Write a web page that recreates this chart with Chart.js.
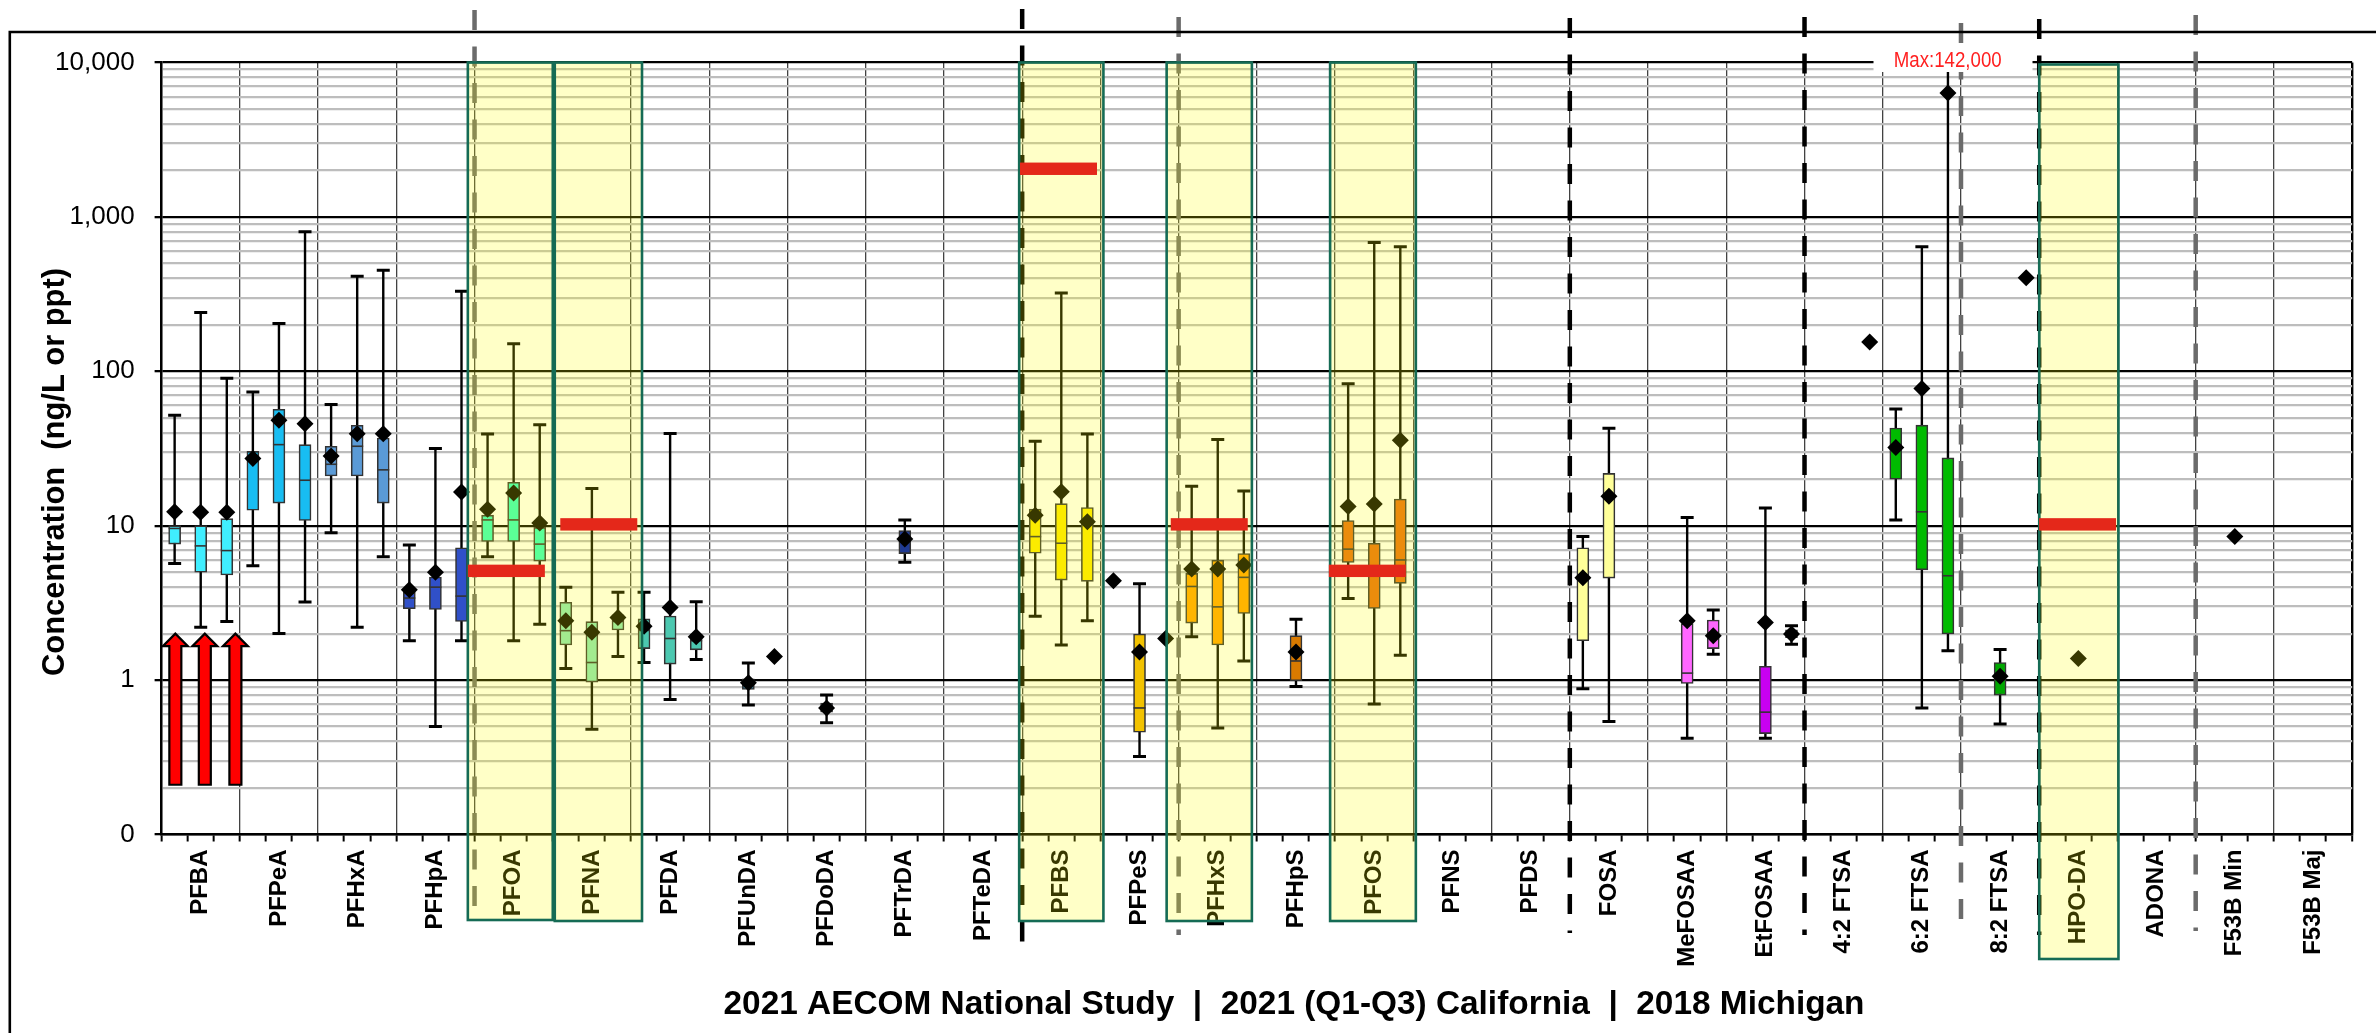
<!DOCTYPE html>
<html>
<head>
<meta charset="utf-8">
<title>PFAS concentrations by analyte</title>
<script src="https://cdn.jsdelivr.net/npm/chart.js@4.4.1/dist/chart.umd.min.js"></script>
<style>
  html, body { margin: 0; padding: 0; background: #fff; }
  #wrap { width: 2376px; height: 1033px; position: relative; }
</style>
</head>
<body>
<div id="wrap"><canvas id="c" width="2376" height="1033"></canvas></div>
<script>
// ---- analytes (x categories) and studies (three boxes per analyte) ----
const categories = ['PFBA','PFPeA','PFHxA','PFHpA','PFOA','PFNA','PFDA','PFUnDA','PFDoDA','PFTrDA','PFTeDA',
  'PFBS','PFPeS','PFHxS','PFHpS','PFOS','PFNS','PFDS','FOSA','MeFOSAA','EtFOSAA',
  '4:2 FTSA','6:2 FTSA','8:2 FTSA','HPO-DA','ADONA','F53B Min','F53B Maj'];
const studies = ['2021 AECOM National Study', '2021 (Q1-Q3) California', '2018 Michigan'];
const n = null;

// 2021 AECOM National Study (ng/L)
const natMin  = [5.7, 5.5, 9.0, 1.8, 6.3, 1.19, 1.3, n, n, n, n, 2.59, n, 1.91, n, 3.38, n, n, 0.88, n, n, n, 10.9, n, n, n, n, n];
const natQ1   = [7.6, 12.6, 21, 2.9, 7.9, 1.69, 1.6, n, n, n, n, 6.64, n, 2.34, n, 5.78, n, n, 1.8, n, n, n, 20, n, n, n, n, n];
const natMed  = [9.6, 27, 25, 3.4, 10.9, 2.09, 2.1, n, n, n, n, 8.5, n, 4.04, n, 7.05, n, n, 4.5, n, n, n, 32, n, n, n, n, n];
const natQ3   = [10.0, 30.3, 32.7, 3.7, 11.7, 3.19, 2.49, n, n, n, n, 12.8, n, 4.91, n, 10.8, n, n, 7.2, n, n, n, 42.9, n, n, n, n, n];
const natMax  = [52, 73.5, 61, 7.5, 39.2, 4.0, 3.7, n, n, n, n, 35.2, n, 18, n, 83, n, n, 8.5, n, n, n, 57, n, n, n, n, n];
const natMean = [12.3, 27.2, 28.3, 3.85, 12.8, 2.42, 2.23, n, n, n, n, 11.7, 4.4, 5.24, n, 13.3, n, n, 4.6, n, n, n, 32.1, n, n, n, n, n];

// 2021 (Q1-Q3) California (ng/L)
const calMin  = [2.2, 2.0, 2.2, 0.5, 1.8, 0.48, 0.75, 0.69, 0.53, 5.8, n, 1.69, 0.32, 0.49, 0.91, 0.70, n, n, 0.54, 0.42, 0.42, n, 0.66, 0.52, n, n, n, n];
const calQ1   = [5.0, 14, 21, 2.87, 7.9, 0.97, 1.27, 0.87, 0.62, 6.6, n, 4.44, 0.46, 1.69, 0.99, 2.91, n, n, 4.58, 0.95, 0.45, n, 5.18, 0.80, n, n, n, n];
const calMed  = [7.4, 33.5, 32.7, 4.0, 10.9, 1.3, 1.86, 0.95, 0.66, 8.0, n, 7.7, 0.66, 2.98, 1.33, 5.0, n, n, 15.5, 1.11, 0.62, n, 12.3, 1.06, n, n, n, n];
const calQ3   = [10.0, 56.8, 44.7, 4.65, 19.1, 2.39, 2.6, 1.02, 0.71, 9.3, n, 13.9, 1.99, 5.98, 1.94, 7.7, n, n, 21.8, 2.32, 1.23, n, 44.8, 1.3, n, n, n, n];
const calMax  = [240, 204, 413, 31.6, 151, 17.4, 39.6, 1.29, 0.80, 10.9, n, 322, 4.2, 36.2, 2.48, 682, n, n, 42.7, 11.3, 13, n, 640, 1.58, n, n, n, n];
const calMean = [12.2, 48.2, 39.4, 5.0, 16.3, 2.04, 2.95, 0.96, 0.66, 8.2, n, 16.6, 1.52, 5.24, 1.52, 13.8, n, n, 15.5, 2.42, 2.36, n, 77.5, 1.06, 1.38, n, 8.5, n];

// 2018 Michigan (ng/L)
const micMin  = [2.4, 3.2, 6.3, 1.8, 2.3, 1.42, 1.36, n, n, n, n, 2.42, n, 1.33, n, 1.45, n, n, n, 1.47, 1.71, n, 1.55, n, n, n, n, n];
const micQ1   = [4.8, 10.8, 14, 2.4, 5.9, 2.11, 1.57, n, n, n, n, 4.36, n, 2.7, n, 4.23, n, n, n, 1.6, 1.88, n, 1.99, n, n, n, n, n];
const micMed  = [6.9, 19.7, 23, 3.5, 7.6, 2.4, 1.8, n, n, n, n, 10.5, n, 4.63, n, 6.0, n, n, n, 1.95, 2.0, n, 4.74, n, n, n, n, n];
const micQ3   = [11.1, 33.5, 37, 7.2, 9.75, 2.65, 1.98, n, n, n, n, 13.1, n, 6.6, n, 14.9, n, n, n, 2.45, 2.12, n, 27.5, n, n, n, n, n];
const micMax  = [90, 800, 451, 330, 45, 3.7, 3.22, n, n, n, n, 39.2, n, 16.8, n, 640, n, n, n, 2.84, 2.25, n, 142000, n, n, n, n, n];
const micMean = [12.2, 45.8, 39.4, 16.5, 10.4, 2.54, 1.91, 1.42, n, n, n, 10.6, 1.86, 5.56, n, 35.8, n, n, n, 1.94, 1.99, 155, 6350, 403, n, n, n, n];

// regulatory reference levels, drawn as red bars over highlighted analytes
const limitAnalytes = ['PFOA', 'PFNA', 'PFBS', 'PFHxS', 'PFOS', 'HPO-DA'];
const limitValues   = [5.1, 10.2, 2050, 10.2, 5.1, 10.2];

// PFBA arrows (lower / upper end of each arrow, ng/L)
const arrowFrom = 0.21;
const arrowTo = 2.0;

// y axis: labelled decades, with the "0" label sitting on 0.1
const yMajorValues = [0.1, 1, 10, 100, 1000, 10000];
const yTickLabels  = ['0', '1', '10', '100', '1,000', '10,000'];

const maxNote = 'Max:142,000';
const xTitle = '2021 AECOM National Study  |  2021 (Q1-Q3) California  |  2018 Michigan';
const yTitle = 'Concentration  (ng/L or ppt)';

// ---- styles ----
const boxColors = ['#40EEFF','#18BDF2','#5A9AD6','#3050C8','#2EFFC0','#88E6B8','#4CC8B0','#3A7F9A','#506080','#1F3A93','#888888',
  '#FAE600','#F2C200','#FFA000','#D97A00','#E66C10','#888888','#888888','#FFFF99','#FF66FF','#C800F0',
  '#00BB00','#00BB00','#00A800','#888888','#888888','#888888','#888888'];

// dashed separators between analyte groups: [first analyte after the line, colour, top y, bottom y]
const separators = [
  ['PFOA', '#6B6B6B', 10, 921], ['PFBS', '#000000', 9, 946], ['PFHxS', '#6B6B6B', 17, 935],
  ['FOSA', '#000000', 18, 933], ['4:2 FTSA', '#000000', 17, 935], ['8:2 FTSA', '#6B6B6B', 23, 931],
  ['HPO-DA', '#000000', 19, 935], ['F53B Min', '#6B6B6B', 15, 931]
];
// highlight frames: [left shift, right shift, top shift, bottom y]
const frameAdjust = {
  'PFOA': [-6.7, 0, 0, 920], 'PFNA': [2, 11, 0, 921], 'PFBS': [-3, 3, 0, 921],
  'PFHxS': [-12, -5, 0, 921], 'PFOS': [-5, 2.5, 0, 921], 'HPO-DA': [0, 1, 2, 959]
};
// horizontal shift of each red bar from its analyte centre
const limitShift = { 'PFOA': -7.3, 'PFNA': 6.9, 'PFBS': -2.8, 'PFHxS': -8.5, 'PFOS': -6.9, 'HPO-DA': -0.8 };

// ---- per-slot arrays (three slots per analyte) ----
const stats = [
  { min: natMin, q1: natQ1, med: natMed, q3: natQ3, max: natMax, mean: natMean },
  { min: calMin, q1: calQ1, med: calMed, q3: calQ3, max: calMax, mean: calMean },
  { min: micMin, q1: micQ1, med: micMed, q3: micQ3, max: micMax, mean: micMean }
];
const NS = studies.length;
const SLOTS = categories.length * NS;
function slotArray(key) {
  const out = [];
  categories.forEach((c, ci) => { for (let s = 0; s < NS; s++) out.push(stats[s][key][ci]); });
  return out;
}
const slotLabels = [];
categories.forEach(c => { slotLabels.push('', c, ''); });
const sMin = slotArray('min'), sQ1 = slotArray('q1'), sMed = slotArray('med'),
      sQ3 = slotArray('q3'), sMax = slotArray('max'), sMean = slotArray('mean');
const boxData = sQ1.map((q1, i) => (q1 != null && sQ3[i] != null) ? [q1, sQ3[i]] : null);
const slotColors = slotLabels.map((_, i) => boxColors[Math.floor(i / NS)]);

// y grid: 1..9 x every decade
const yGridValues = [];
for (let e = -1; e <= 4; e++) {
  for (let m = 1; m <= 9; m++) {
    const v = +(m * Math.pow(10, e)).toPrecision(4);
    if (v <= 10000) yGridValues.push(v);
  }
}
const majorIndex = v => yMajorValues.findIndex(m => Math.abs(m - v) / m < 1e-6);

// ---- drawing helpers ----
function catBounds(chart, name) {
  const xs = chart.scales.x;
  const c = categories.indexOf(name);
  const w = xs.getPixelForValue(1) - xs.getPixelForValue(0);
  const left = xs.getPixelForValue(c * NS) - w / 2;
  const right = xs.getPixelForValue(c * NS + NS - 1) + w / 2;
  return { left, right, center: (left + right) / 2 };
}
function fitText(ctx, text, targetW) {
  const w = ctx.measureText(text).width;
  ctx.scale(targetW / w, 1);
  ctx.fillText(text, 0, 0);
}

const decor = {
  id: 'decor',
  beforeDatasetsDraw(chart) {
    const { ctx, chartArea: a } = chart;
    const xs = chart.scales.x, ys = chart.scales.y;
    ctx.save();
    ctx.beginPath();
    ctx.rect(a.left, a.top, a.right - a.left, a.bottom - a.top);
    ctx.clip();
    ctx.strokeStyle = '#000';
    for (let i = 0; i < SLOTS; i++) {
      if (sMin[i] == null || sMax[i] == null) continue;
      const x = xs.getPixelForValue(i);
      const yHi = ys.getPixelForValue(sMax[i]);
      const yLo = ys.getPixelForValue(sMin[i]);
      ctx.lineWidth = 2.4;
      ctx.beginPath(); ctx.moveTo(x, yHi); ctx.lineTo(x, yLo); ctx.stroke();
      ctx.lineWidth = 3;
      ctx.beginPath();
      ctx.moveTo(x - 6.5, yHi); ctx.lineTo(x + 6.5, yHi);
      ctx.moveTo(x - 6.5, yLo); ctx.lineTo(x + 6.5, yLo);
      ctx.stroke();
    }
    ctx.restore();
  },
  afterDatasetDraw(chart, args) {
    if (args.index !== 0) return;
    const { ctx } = chart;
    const xs = chart.scales.x, ys = chart.scales.y;
    ctx.save();
    ctx.strokeStyle = '#333';
    ctx.lineWidth = 1.6;
    for (let i = 0; i < SLOTS; i++) {
      if (sMed[i] == null || boxData[i] == null) continue;
      const x = xs.getPixelForValue(i), y = ys.getPixelForValue(sMed[i]);
      ctx.beginPath(); ctx.moveTo(x - 6, y); ctx.lineTo(x + 6, y); ctx.stroke();
    }
    ctx.restore();
  },
  afterDatasetsDraw(chart) {
    const { ctx, chartArea: a } = chart;
    const xs = chart.scales.x, ys = chart.scales.y;
    ctx.save();

    // dashed group separators
    ctx.lineWidth = 4.5;
    ctx.setLineDash([20, 16.5]);
    separators.forEach(([name, color, top, bottom]) => {
      const x = catBounds(chart, name).left;
      ctx.strokeStyle = color;
      ctx.beginPath(); ctx.moveTo(x, top); ctx.lineTo(x, bottom); ctx.stroke();
    });
    ctx.setLineDash([]);

    // red arrows under PFBA
    const arrowShift = [0.7, 4.1, 8.6];
    const pfba = categories.indexOf('PFBA');
    for (let s = 0; s < NS; s++) {
      const x = xs.getPixelForValue(pfba * NS + s) + arrowShift[s];
      const yT = ys.getPixelForValue(arrowTo), yB = ys.getPixelForValue(arrowFrom);
      const sw = 6, hw = 12.5, hh = 12.5;
      ctx.beginPath();
      ctx.moveTo(x - sw, yB); ctx.lineTo(x - sw, yT + hh); ctx.lineTo(x - hw, yT + hh);
      ctx.lineTo(x, yT); ctx.lineTo(x + hw, yT + hh); ctx.lineTo(x + sw, yT + hh);
      ctx.lineTo(x + sw, yB); ctx.closePath();
      ctx.fillStyle = '#FF0000'; ctx.fill();
      ctx.lineWidth = 2.2; ctx.strokeStyle = '#000'; ctx.stroke();
    }

    // translucent yellow frames over regulated analytes
    limitAnalytes.forEach(name => {
      const b = catBounds(chart, name);
      const [dl, dr, dt, bottom] = frameAdjust[name];
      const l = b.left + dl, r = b.right + dr, t = a.top + dt;
      ctx.fillStyle = 'rgba(255,255,0,0.22)';
      ctx.fillRect(l, t, r - l, bottom - t);
      ctx.strokeStyle = '#156B55'; ctx.lineWidth = 2.6;
      ctx.strokeRect(l, t, r - l, bottom - t);
    });

    // red reference-level bars
    limitAnalytes.forEach((name, k) => {
      const b = catBounds(chart, name);
      const cx = b.center + limitShift[name];
      const y = ys.getPixelForValue(limitValues[k]);
      ctx.fillStyle = '#E4281A';
      ctx.fillRect(cx - 38.5, y - 6.2, 77, 12.4);
    });

    // note for the off-scale maximum
    ctx.fillStyle = '#FFFFFF';
    ctx.fillRect(1873.5, 44, 159, 28);
    ctx.fillStyle = '#FF2020';
    ctx.font = '22px "Liberation Sans Narrow", "Liberation Sans", Arial, sans-serif';
    ctx.textAlign = 'center'; ctx.textBaseline = 'alphabetic';
    ctx.translate(1947.7, 67);
    fitText(ctx, maxNote, 108);
    ctx.restore();
  },
  afterDraw(chart) {
    const { ctx } = chart;
    ctx.save();
    ctx.fillStyle = '#000';
    ctx.textAlign = 'center';
    ctx.textBaseline = 'alphabetic';
    // axis titles
    ctx.font = 'bold 31px "Liberation Sans", Arial, sans-serif';
    ctx.save();
    ctx.translate(64, 472);
    ctx.rotate(-Math.PI / 2);
    fitText(ctx, yTitle, 408);
    ctx.restore();
    ctx.font = 'bold 34px "Liberation Sans", Arial, sans-serif';
    ctx.save();
    ctx.translate(1294, 1014);
    fitText(ctx, xTitle, 1141);
    ctx.restore();
    // outer frame
    ctx.strokeStyle = '#000';
    ctx.lineWidth = 2.6;
    ctx.beginPath();
    ctx.moveTo(9.8, 1040); ctx.lineTo(9.8, 32); ctx.lineTo(2380, 32);
    ctx.stroke();
    ctx.restore();
  }
};

Chart.defaults.font.family = '"Liberation Sans", Arial, sans-serif';
Chart.defaults.color = '#000';

new Chart(document.getElementById('c'), {
  type: 'bar',
  data: {
    labels: slotLabels,
    datasets: [
      {
        type: 'bar',
        label: 'Interquartile range',
        data: boxData,
        backgroundColor: slotColors,
        borderColor: '#333',
        borderWidth: 1.6,
        borderSkipped: false,
        barThickness: 12,
        order: 2
      },
      {
        type: 'line',
        label: 'Mean',
        data: sMean,
        showLine: false,
        pointStyle: 'rectRot',
        pointRadius: 8.5,
        pointHoverRadius: 8.5,
        pointBackgroundColor: '#000',
        pointBorderColor: '#000',
        pointBorderWidth: 0,
        order: 0
      }
    ]
  },
  options: {
    responsive: false,
    animation: false,
    devicePixelRatio: 1,
    layout: { padding: { left: 0, right: 14, top: 62.5, bottom: 0 } },
    plugins: { legend: { display: false }, tooltip: { enabled: false }, title: { display: false } },
    scales: {
      x: {
        type: 'category',
        offset: true,
        grid: {
          offset: true,
          drawOnChartArea: true,
          color: c => c.type === 'tick' ? (c.index % 3 === 0 ? 'rgba(45,45,45,0.9)' : 'rgba(0,0,0,0)') : '#000',
          lineWidth: c => c.type === 'tick' ? 1.3 : 2.4,
          tickColor: '#000',
          tickLength: 7,
          tickWidth: 2
        },
        border: { display: true, color: '#000', width: 2.4 },
        ticks: {
          autoSkip: false,
          minRotation: 90,
          maxRotation: 90,
          padding: 8,
          color: '#000',
          font: { size: 24, weight: 'bold' }
        },
        afterFit: s => { s.height = 1033 - 834.5; }
      },
      y: {
        type: 'logarithmic',
        min: 0.1,
        max: 10000,
        afterBuildTicks: s => { s.ticks = yGridValues.map(v => ({ value: v, major: majorIndex(v) >= 0 })); },
        afterFit: s => { s.width = 161.6; },
        grid: {
          color: c => (c.tick && majorIndex(c.tick.value) >= 0) ? '#000' : '#BDBDBD',
          lineWidth: c => (c.tick && majorIndex(c.tick.value) >= 0) ? 2.3 : 2.2,
          tickColor: c => (c.tick && majorIndex(c.tick.value) >= 0) ? '#000' : 'rgba(0,0,0,0)',
          tickLength: 7,
          tickWidth: 2.3
        },
        border: { display: true, color: '#000', width: 2.4 },
        ticks: {
          autoSkip: false,
          padding: 20,
          color: '#000',
          font: { size: 26 },
          callback: v => { const k = majorIndex(v); return k >= 0 ? yTickLabels[k] : ''; }
        }
      }
    }
  },
  plugins: [decor]
});
</script>
</body>
</html>
